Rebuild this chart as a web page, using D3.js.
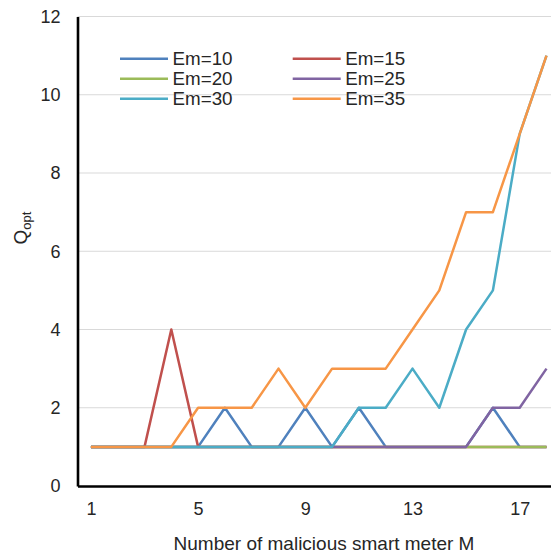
<!DOCTYPE html>
<html>
<head>
<meta charset="utf-8">
<script src="https://cdn.jsdelivr.net/npm/d3@7/dist/d3.min.js"></script>
<style>
  html, body { margin: 0; padding: 0; background: #fff; }
  svg { display: block; font-family: "Liberation Sans", Arial, sans-serif; }
</style>
</head>
<body>
<svg id="chart" width="551" height="556"></svg>
<script>
// Number of malicious smart meters M
const mValues = d3.range(1, 19);
const xTickValues = [1, 5, 9, 13, 17];
const yTickValues = [0, 2, 4, 6, 8, 10, 12];

// Optimal Q for each Em setting
const em10 = [1, 1, 1, 1, 1, 2, 1, 1, 2, 1, 2, 1, 1, 1, 1, 2, 1, 1];
const em15 = [1, 1, 1, 4, 1, 1, 1, 1, 1, 1, 1, 1, 1, 1, 1, 1, 1, 1];
const em20 = [1, 1, 1, 1, 1, 1, 1, 1, 1, 1, 1, 1, 1, 1, 1, 1, 1, 1];
const em25 = [1, 1, 1, 1, 1, 1, 1, 1, 1, 1, 1, 1, 1, 1, 1, 2, 2, 3];
const em30 = [1, 1, 1, 1, 1, 1, 1, 1, 1, 1, 2, 2, 3, 2, 4, 5, 9, 11];
const em35 = [1, 1, 1, 1, 2, 2, 2, 3, 2, 3, 3, 3, 4, 5, 7, 7, 9, 11];

const seriesNames = ["Em=10", "Em=15", "Em=20", "Em=25", "Em=30", "Em=35"];
const seriesValues = [em10, em15, em20, em25, em30, em35];
const seriesColors = ["#4F81BD", "#C0504D", "#9BBB59", "#8064A2", "#4BACC6", "#F79646"];

const svg = d3.select("#chart");

const x = d3.scaleLinear().domain([0.5, 18.5]).range([77.5, 559.9]);
const y = d3.scaleLinear().domain([0, 12]).range([486, 16.5]);

// horizontal gridlines
svg.append("g")
  .selectAll("line")
  .data(yTickValues.filter(v => v > 0))
  .join("line")
  .attr("x1", x(0.5)).attr("x2", 551)
  .attr("y1", d => y(d)).attr("y2", d => y(d))
  .attr("stroke", "#d9d9d9")
  .attr("stroke-width", 1.2);

// y axis
const yAxis = svg.append("g")
  .attr("transform", `translate(${x(0.5)},0)`)
  .call(d3.axisLeft(y).tickValues(yTickValues).tickSize(0).tickPadding(17));
yAxis.select(".domain").attr("stroke", "#000").attr("stroke-width", 2.6);
yAxis.selectAll("text")
  .attr("font-size", 18)
  .attr("fill", "#262626")
  .attr("font-family", "Liberation Sans, Arial, sans-serif");

// x axis
const xAxis = svg.append("g")
  .attr("transform", `translate(0,${y(0)})`)
  .call(d3.axisBottom(x).tickValues(xTickValues).tickFormat(d3.format("d")).tickSize(0).tickPadding(16));
xAxis.select(".domain").attr("stroke", "#000").attr("stroke-width", 2.6);
xAxis.selectAll("text")
  .attr("font-size", 18)
  .attr("fill", "#262626")
  .attr("font-family", "Liberation Sans, Arial, sans-serif");

// series lines (Em=10 first, Em=35 last on top)
const line = d3.line()
  .x((d, i) => x(mValues[i]))
  .y(d => y(d));

svg.append("g")
  .selectAll("path")
  .data(seriesValues)
  .join("path")
  .attr("d", d => line(d))
  .attr("fill", "none")
  .attr("stroke", (d, i) => seriesColors[i])
  .attr("stroke-width", 2.5)
  .attr("stroke-linejoin", "round");

// legend in two columns
const legend = svg.append("g");
seriesNames.forEach((name, i) => {
  const col = i % 2, row = Math.floor(i / 2);
  const lx = col === 0 ? 120 : 292.7;
  const ly = 58.7 + row * 20;
  legend.append("line")
    .attr("x1", lx).attr("x2", lx + 48)
    .attr("y1", ly).attr("y2", ly)
    .attr("stroke", seriesColors[i])
    .attr("stroke-width", 2.5);
  legend.append("text")
    .attr("x", lx + 52.5).attr("y", ly)
    .attr("dy", "0.35em")
    .attr("font-size", 18.8)
    .attr("fill", "#262626")
    .text(name);
});

// axis titles
svg.append("text")
  .attr("x", 324).attr("y", 550)
  .attr("text-anchor", "middle")
  .attr("font-size", 19)
  .attr("fill", "#262626")
  .text("Number of malicious smart meter M");

const yTitle = svg.append("text")
  .attr("transform", "translate(27,228) rotate(-90)")
  .attr("text-anchor", "middle")
  .attr("font-size", 19)
  .attr("fill", "#262626");
yTitle.append("tspan").text("Q");
yTitle.append("tspan").attr("font-size", 13).attr("dy", 4).text("opt");
</script>
</body>
</html>
